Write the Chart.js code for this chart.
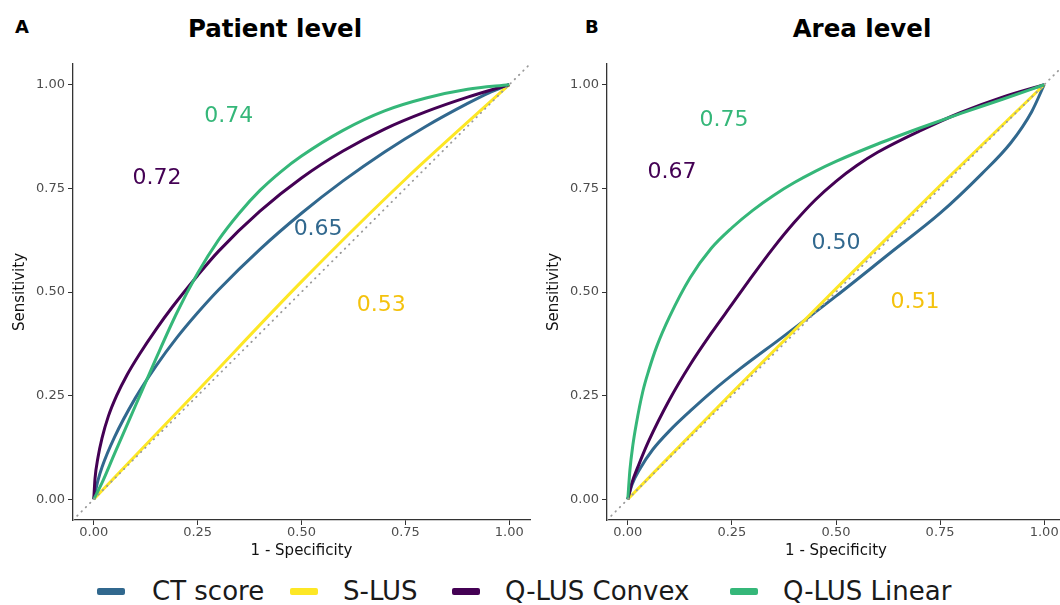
<!DOCTYPE html>
<html>
<head>
<meta charset="utf-8">
<script src="https://cdn.jsdelivr.net/npm/chart.js@4.4.1/dist/chart.umd.min.js"></script>
<style>
  html, body { margin: 0; padding: 0; background: #fff; }
  body { width: 1060px; height: 605px; overflow: hidden; position: relative; font-family: "DejaVu Sans", sans-serif; }
  canvas { position: absolute; top: 0; }
  .tag { position: absolute; top: 17px; font-weight: bold; font-size: 18px; line-height: 20px; color: #000; }
  .title { position: absolute; top: 14px; font-weight: bold; font-size: 24.5px; line-height: 30px; color: #000; transform: translateX(-50%); white-space: nowrap; }
  .key { position: absolute; top: 588px; width: 28px; height: 7px; border-radius: 2px; }
  .lab { position: absolute; top: 576px; font-size: 26px; line-height: 30px; color: #1a1a1a; white-space: nowrap; }
</style>
</head>
<body>
<div class="tag" style="left:15px">A</div>
<div class="tag" style="left:585px">B</div>
<div class="title" style="left:275px">Patient level</div>
<div class="title" style="left:862px">Area level</div>
<canvas id="patient" width="540" height="560" style="left:0px"></canvas>
<canvas id="area" width="541" height="560" style="left:534px"></canvas>
<div id="legend"></div>

<script>
// series, in legend order
const seriesNames = ["CT score", "S-LUS", "Q-LUS Convex", "Q-LUS Linear"];
const seriesColors = ["#31688e", "#fde725", "#440154", "#35b779"];
const labelColors = ["#31688e", "#f4c20d", "#440154", "#35b779"];

const tickValues = [0, 0.25, 0.5, 0.75, 1];
const diagonal = [[-0.05, -0.05], [1.05, 1.05]];

// ROC curves, [1 - specificity, sensitivity]
const patientCT = [[0, 0], [0.01, 0.045], [0.02, 0.078], [0.05, 0.15], [0.1, 0.244], [0.15, 0.322], [0.2, 0.39], [0.25, 0.45], [0.3, 0.505], [0.4, 0.603], [0.5, 0.69], [0.6, 0.768], [0.7, 0.838], [0.8, 0.9], [0.9, 0.955], [0.95, 0.98], [1, 1]];
const patientSLUS = [[0, 0], [0.25, 0.262], [0.5, 0.525], [0.75, 0.772], [1, 1]];
const patientConvex = [[0, 0], [0.003, 0.05], [0.01, 0.1], [0.02, 0.148], [0.035, 0.2], [0.055, 0.25], [0.08, 0.3], [0.11, 0.35], [0.15, 0.41], [0.19, 0.465], [0.25, 0.54], [0.3, 0.598], [0.4, 0.695], [0.5, 0.775], [0.6, 0.84], [0.7, 0.893], [0.8, 0.935], [0.9, 0.97], [1, 1]];
const patientLinear = [[0, 0], [0.02, 0.04], [0.05, 0.11], [0.1, 0.225], [0.15, 0.34], [0.2, 0.45], [0.25, 0.545], [0.3, 0.625], [0.35, 0.69], [0.4, 0.745], [0.45, 0.79], [0.5, 0.828], [0.6, 0.89], [0.7, 0.937], [0.8, 0.968], [0.9, 0.989], [1, 1]];

const areaCT = [[0, 0], [0.01, 0.035], [0.03, 0.075], [0.06, 0.12], [0.1, 0.165], [0.15, 0.213], [0.2, 0.258], [0.27, 0.315], [0.37, 0.39], [0.5, 0.49], [0.63, 0.594], [0.75, 0.69], [0.85, 0.785], [0.92, 0.86], [0.97, 0.935], [1, 1]];
const areaSLUS = [[0, 0], [0.25, 0.257], [0.5, 0.508], [0.75, 0.757], [1, 1]];
const areaConvex = [[0, 0], [0.01, 0.04], [0.025, 0.08], [0.05, 0.14], [0.1, 0.24], [0.15, 0.325], [0.2, 0.4], [0.25, 0.47], [0.3, 0.54], [0.35, 0.607], [0.4, 0.668], [0.45, 0.722], [0.5, 0.767], [0.55, 0.805], [0.6, 0.837], [0.7, 0.888], [0.8, 0.933], [0.9, 0.97], [1, 1]];
const areaLinear = [[0, 0], [0.005, 0.07], [0.012, 0.13], [0.02, 0.18], [0.036, 0.26], [0.05, 0.31], [0.07, 0.37], [0.1, 0.44], [0.15, 0.535], [0.2, 0.605], [0.25, 0.655], [0.3, 0.697], [0.35, 0.733], [0.4, 0.764], [0.45, 0.791], [0.5, 0.815], [0.6, 0.857], [0.7, 0.895], [0.8, 0.931], [0.9, 0.965], [1, 1]];

// AUC annotations and where they sit (data coordinates)
const patientAuc = ["0.65", "0.53", "0.72", "0.74"];
const patientAucX = [0.54, 0.692, 0.152, 0.325];
const patientAucY = [0.652, 0.469, 0.775, 0.925];
const areaAuc = ["0.50", "0.51", "0.67", "0.75"];
const areaAucX = [0.5, 0.69, 0.106, 0.231];
const areaAucY = [0.618, 0.476, 0.79, 0.915];

// legend: key start and text start, in page pixels
const legendKeyLeft = [97, 290, 452, 730];
const legendTextLeft = [152, 343, 505, 783];

const FONT = "'DejaVu Sans', sans-serif";

function toPoints(pairs) {
  return pairs.map((p) => ({ x: p[0], y: p[1] }));
}

const aucPlugin = {
  id: "auc",
  afterDatasetsDraw(chart, args, opts) {
    const { ctx, scales } = chart;
    ctx.save();
    ctx.font = "22px " + FONT;
    ctx.textAlign = "center";
    ctx.textBaseline = "middle";
    opts.text.forEach((t, i) => {
      ctx.fillStyle = labelColors[i];
      ctx.fillText(t, scales.x.getPixelForValue(opts.xs[i]), scales.y.getPixelForValue(opts.ys[i]));
    });
    ctx.restore();
  }
};

function axis(titleText, isX) {
  return {
    type: "linear",
    min: -0.05,
    max: 1.05,
    afterBuildTicks: (s) => { s.ticks = tickValues.map((v) => ({ value: v })); },
    afterFit: (s) => { if (isX) s.height = 40; else s.width = 65; },
    ticks: {
      callback: (v) => Number(v).toFixed(2),
      color: "#4d4d4d",
      font: { family: FONT, size: 13 },
      padding: isX ? 0 : 3,
      maxRotation: 0,
      autoSkip: false
    },
    grid: { display: true, drawOnChartArea: false, drawTicks: true, tickLength: 5, color: "#333", lineWidth: 1 },
    border: { display: true, color: "#333", width: 1.3 },
    title: {
      display: true,
      text: titleText,
      color: "#111",
      font: { family: FONT, size: 15 },
      padding: isX ? { top: 0, bottom: 0 } : { top: 3, bottom: 0 }
    }
  };
}

function buildPanel(id, curves, aucText, aucX, aucY) {
  const datasets = [{
    label: "chance",
    data: toPoints(diagonal),
    borderColor: "#9a9a9a",
    borderWidth: 1.8,
    borderDash: [0.5, 5.5],
    borderCapStyle: "round",
    pointRadius: 0,
    order: 0
  }];
  curves.forEach((c, i) => {
    datasets.push({
      label: seriesNames[i],
      data: toPoints(c),
      borderColor: seriesColors[i],
      borderWidth: 3,
      pointRadius: 0,
      cubicInterpolationMode: "monotone",
      order: 4 - i
    });
  });

  return new Chart(document.getElementById(id), {
    type: "line",
    data: { datasets },
    plugins: [aucPlugin],
    options: {
      responsive: false,
      animation: false,
      layout: { padding: { left: 8, right: 10, top: 64, bottom: 0 } },
      plugins: {
        legend: { display: false },
        tooltip: { enabled: false },
        auc: { text: aucText, xs: aucX, ys: aucY }
      },
      scales: {
        x: axis("1 - Specificity", true),
        y: axis("Sensitivity", false)
      }
    }
  });
}

buildPanel("patient", [patientCT, patientSLUS, patientConvex, patientLinear], patientAuc, patientAucX, patientAucY);
buildPanel("area", [areaCT, areaSLUS, areaConvex, areaLinear], areaAuc, areaAucX, areaAucY);

// shared legend under both panels
const legend = document.getElementById("legend");
seriesNames.forEach((name, i) => {
  const key = document.createElement("div");
  key.className = "key";
  key.style.left = legendKeyLeft[i] + "px";
  key.style.background = seriesColors[i];
  const lab = document.createElement("div");
  lab.className = "lab";
  lab.style.left = legendTextLeft[i] + "px";
  lab.textContent = name;
  legend.appendChild(key);
  legend.appendChild(lab);
});
</script>
</body>
</html>
